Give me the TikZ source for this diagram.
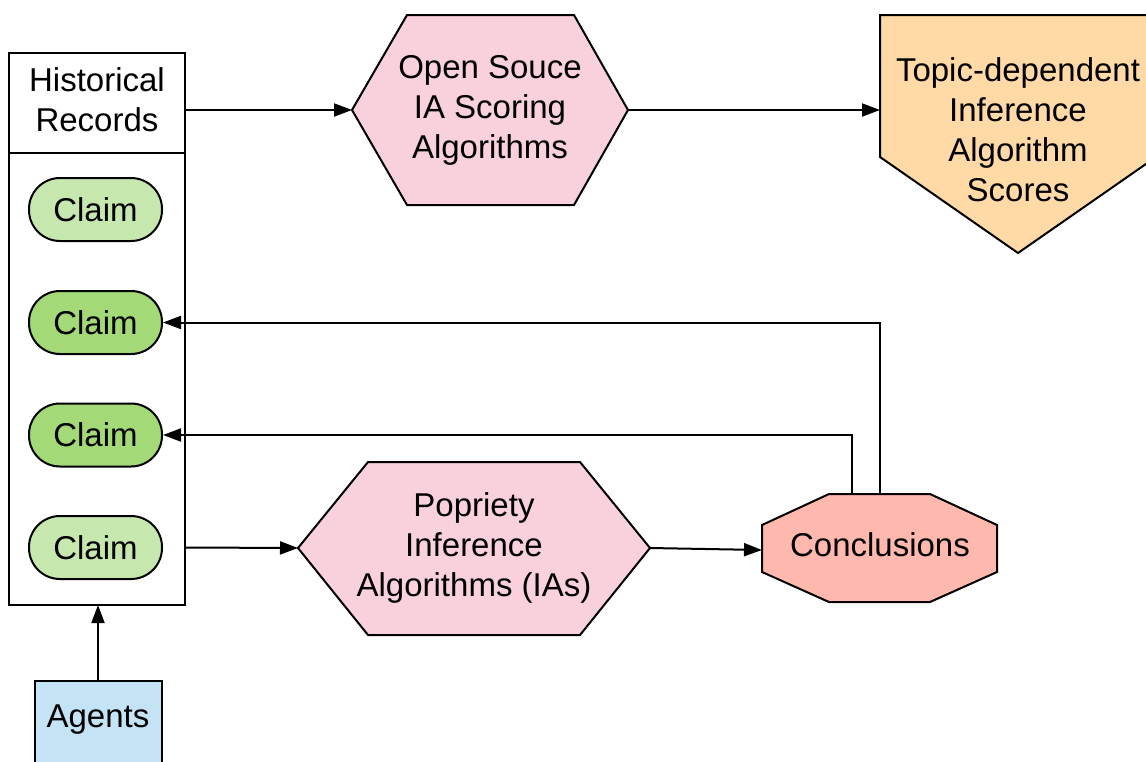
\documentclass[tikz,border=0pt]{standalone}
\usepackage{fontspec}
\setmainfont{Liberation Sans}
\usetikzlibrary{arrows.meta}
\definecolor{hexpink}{HTML}{F8D1DD}
\definecolor{scoreorange}{HTML}{FFD9A6}
\definecolor{conclred}{HTML}{FFB8AE}
\definecolor{claimlight}{HTML}{C6E8AF}
\definecolor{claimdark}{HTML}{A3D977}
\definecolor{agentblue}{HTML}{C4E4F6}
\begin{document}
\begin{tikzpicture}[x=1pt,y=-1pt,line width=2pt,
  lbl/.style={font=\fontsize{33}{40}\selectfont,align=center,inner sep=0pt},
  flow/.style={-{Triangle[length=18pt,width=13pt]},line width=2pt},
  shapeline/.style={draw=black,line width=2pt,line join=miter},
  claimbox/.style={draw,line width=2pt,rounded corners=31pt,minimum width=133pt,
    minimum height=63pt,inner sep=0pt,font=\fontsize{33}{40}\selectfont}]
\clip (0,0) rectangle (1146,761);
\fill[white] (0,0) rectangle (1146,761);

% Historical records container
\draw[shapeline] (9,53) rectangle (185,605);
\draw[shapeline] (9,153) -- (185,153);
\node[lbl] (hist) at (97,100) {Historical\\Records};
\coordinate (histout) at (185,110);
\coordinate (histbottom) at (98,605);

% Claims
\node[claimbox,fill=claimlight] (c1) at (95.5,209.5) {Claim};
\node[claimbox,fill=claimdark]  (c2) at (95.5,322.5) {Claim};
\node[claimbox,fill=claimdark]  (c3) at (95.5,435)   {Claim};
\node[claimbox,fill=claimlight] (c4) at (95.5,547.5) {Claim};
\coordinate (c4out) at (185,547.5);

% Open source scoring hexagon
\filldraw[shapeline,fill=hexpink] (352,110) -- (407,15) -- (574,15) -- (628,110)
  -- (574,205) -- (407,205) -- cycle;
\coordinate (hexAin) at (352,110);
\coordinate (hexAout) at (628,110);
\node[lbl] (hexA) at (490,110) {Open Souce\\IA Scoring\\Algorithms};

% Topic-dependent scores pentagon
\filldraw[shapeline,fill=scoreorange] (880,15) -- (1156,15) -- (1156,157)
  -- (1018,253) -- (880,157) -- cycle;
\coordinate (pentin) at (880,110);
\node[lbl] (pent) at (1018,130) {Topic-dependent\\Inference\\Algorithm\\Scores};

% Proprietary inference hexagon
\filldraw[shapeline,fill=hexpink] (298,548) -- (368,462) -- (580,462) -- (650,548)
  -- (580,635) -- (368,635) -- cycle;
\coordinate (hexBin) at (298,548);
\coordinate (hexBout) at (650,548);
\node[lbl] (hexB) at (474,548) {Popriety\\Inference\\Algorithms (IAs)};

% Conclusions octagon
\filldraw[shapeline,fill=conclred] (762,525) -- (829,494) -- (930,494) -- (997,525)
  -- (997,572) -- (930,602) -- (829,602) -- (762,572) -- cycle;
\coordinate (concin) at (762,550);
\coordinate (conctopA) at (852,494);
\coordinate (conctopB) at (880,494);
\node[lbl] (conc) at (880,545) {Conclusions};

% Agents
\filldraw[shapeline,fill=agentblue] (35,681) rectangle (162,790);
\coordinate (agtop) at (98,681);
\node[lbl] (agents) at (98,720) {Agents};

% Connectors
\draw[flow] (histout) -- (hexAin);
\draw[flow] (hexAout) -- (pentin);
\draw[flow] (c4out) -- (hexBin);
\draw[flow] (hexBout) -- (concin);
\draw[flow] (conctopB) -- (conctopB |- c2) -- (c2.east);
\draw[flow] (conctopA) -- (conctopA |- c3) -- (c3.east);
\draw[flow] (agtop) -- (histbottom);
\end{tikzpicture}
\end{document}
